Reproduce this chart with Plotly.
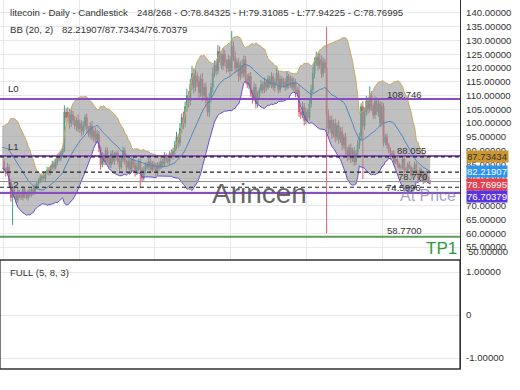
import plotly.graph_objects as go
import pandas as pd

# ---------------- data ----------------
warmup_close = [84, 87, 90, 88, 93, 96, 94, 97, 93, 98, 95, 91, 94, 90, 93, 88, 91, 87, 89, 86]

close = [
    83, 82, 84, 79, 73, 76, 74, 72, 75, 74,
    73, 76, 74, 73, 75, 74, 76, 75, 77, 78,
    79, 80, 81, 80, 82, 83, 82, 84, 85, 84,
    86, 88, 87, 89, 90, 104, 102, 104, 100, 103,
    101, 99, 101, 98, 100, 97, 99, 102, 98, 96,
    99, 95, 97, 94, 96, 91, 85, 88, 86, 90,
    87, 85, 89, 86, 88, 89, 86, 84, 87, 90,
    86, 84, 86, 83, 87, 85, 82, 84, 86, 83,
    80, 83, 85, 84, 86, 83, 85, 84, 82, 85,
    84, 86, 85, 88, 87, 86, 89, 88, 90, 92,
    95, 93, 98, 102, 100, 106, 110, 108, 114, 118,
    113, 117, 115, 111, 116, 110, 113, 108, 104, 109,
    113, 118, 121, 119, 126, 124, 121, 125, 122, 120,
    123, 119, 128, 124, 120, 122, 117, 121, 118, 123,
    116, 114, 117, 111, 109, 113, 107, 110, 112, 114,
    112, 115, 113, 116, 114, 117, 113, 115, 118, 112,
    116, 114, 115, 113, 117, 114, 116, 113, 115, 111,
    112, 104, 103, 106, 101, 104, 102, 107, 112, 118,
    122, 124, 121, 123, 118, 122, 120, 103, 98, 101,
    96, 100, 95, 99, 94, 97, 92, 95, 90, 88,
    91, 87, 90, 86, 89, 92, 95, 106, 99, 104,
    108, 105, 110, 106, 103, 108, 104, 107, 100, 106,
    93, 95, 92, 90, 88, 89, 86, 87, 85, 84,
    84, 87, 83, 83, 85, 84, 81, 83, 85, 82,
    80, 83, 81, 79, 82, 80, 78.84325, 78.76995,
]

wick_up = [
    1.2, 0.8, 1.5, 1.0, 0.6, 1.8, 1.2, 0.9, 1.4, 0.7,
    1.0, 1.3, 0.6, 1.1, 0.9, 1.2, 0.8, 1.5, 1.0, 0.7,
    0.9, 1.2, 0.8, 1.4, 0.6, 1.1, 1.0, 0.8, 1.3, 0.9,
    1.1, 0.7, 1.4, 0.9, 1.2, 2.5, 1.5, 1.8, 1.2, 2.0,
    1.4, 1.6, 1.1, 2.2, 1.3, 1.0, 1.7, 1.2, 1.5, 0.9,
    1.3, 1.8, 1.0, 1.4, 1.6, 1.2, 0.8, 1.5, 1.1, 1.3,
    1.0, 1.4, 0.9, 1.2, 1.6, 0.8, 1.1, 1.3, 1.0, 1.5,
    1.2, 0.9, 1.4, 1.0, 1.3, 0.7, 1.1, 1.5, 0.9, 1.2,
    1.0, 1.3, 0.8, 1.1, 1.4, 0.9, 1.2, 1.0, 1.5, 0.8,
    1.1, 1.3, 0.9, 1.4, 1.0, 1.2, 0.8, 1.5, 1.1, 1.6,
    1.8, 1.2, 2.0, 1.5, 2.2, 1.8, 2.5, 1.6, 2.1, 2.8,
    1.9, 2.4, 1.5, 2.0, 1.7, 2.2, 1.4, 1.8, 1.6, 2.0,
    1.5, 2.2, 1.8, 1.4, 2.3, 1.9, 1.5, 2.1, 1.6, 1.2,
    1.8, 1.4, 5.5, 1.7, 2.0, 1.3, 1.8, 1.5, 2.2, 1.6,
    1.4, 1.9, 1.2, 1.6, 1.1, 1.8, 1.3, 1.5, 1.0, 1.7,
    1.2, 1.5, 0.9, 1.4, 1.1, 1.6, 1.0, 1.3, 1.8, 1.1,
    1.4, 1.0, 1.5, 1.2, 1.7, 0.9, 1.3, 1.1, 1.6, 1.0,
    1.2, 2.0, 1.4, 1.8, 1.3, 1.6, 1.1, 2.2, 1.9, 2.5,
    1.8, 2.0, 1.5, 2.3, 1.7, 1.9, 1.4, 15.0, 2.0, 1.6,
    1.8, 1.3, 1.6, 1.2, 1.9, 1.4, 1.7, 1.1, 1.5, 1.3,
    1.2, 1.6, 1.0, 1.4, 1.1, 1.8, 1.5, 1.2, 2.0, 1.7,
    1.9, 1.4, 3.3, 1.6, 1.2, 1.8, 1.4, 1.5, 1.1, 1.7,
    1.3, 1.0, 1.2, 0.8, 1.1, 0.9, 1.2, 0.7, 1.0, 0.8,
    0.9, 1.1, 0.7, 1.0, 0.8, 1.2, 0.6, 0.9, 1.1, 0.7,
    0.8, 1.0, 0.6, 0.9, 0.7, 0.8, 0.5, 0.4676,
]

wick_dn = [
    1.0, 1.4, 0.8, 1.2, 1.5, 10.0, 1.3, 1.0, 0.8, 1.2,
    0.9, 1.1, 1.4, 0.7, 1.2, 1.0, 0.8, 1.3, 0.9, 1.1,
    1.0, 0.8, 1.2, 0.9, 1.3, 0.7, 1.1, 1.0, 0.8, 1.4,
    0.9, 1.2, 0.8, 1.0, 1.1, 0.6, 1.8, 1.2, 2.0, 1.4,
    1.6, 1.1, 1.9, 1.3, 1.5, 1.8, 1.2, 1.4, 1.7, 1.0,
    1.5, 1.2, 1.8, 1.1, 1.4, 1.6, 2.0, 1.0, 1.3, 1.2,
    1.4, 1.1, 1.3, 0.9, 1.2, 1.5, 1.0, 1.4, 0.8, 1.2,
    1.0, 1.3, 0.9, 1.5, 1.1, 1.2, 1.4, 0.8, 1.3, 6.6,
    1.2, 0.9, 1.4, 1.0, 1.1, 1.3, 0.8, 1.2, 1.5, 1.0,
    1.3, 0.8, 1.1, 1.0, 1.4, 0.9, 1.2, 1.0, 1.3, 1.5,
    1.6, 2.0, 1.4, 1.8, 2.2, 1.5, 1.9, 2.4, 1.6, 2.0,
    2.2, 1.6, 2.0, 1.8, 1.5, 2.1, 1.7, 2.3, 1.5, 1.8,
    1.6, 1.9, 1.4, 1.7, 1.2, 2.0, 1.5, 1.8, 1.3, 1.7,
    1.4, 2.0, 0.0, 1.5, 1.8, 1.2, 1.9, 1.4, 1.6, 1.3,
    1.5, 1.2, 1.7, 1.4, 1.9, 1.1, 1.7, 1.3, 1.6, 1.0,
    1.3, 1.1, 1.5, 0.9, 1.2, 1.4, 1.0, 1.6, 1.1, 1.3,
    1.0, 1.4, 1.1, 1.3, 0.9, 1.5, 1.2, 1.0, 1.4, 1.6,
    1.3, 1.8, 1.5, 1.2, 1.9, 1.4, 1.6, 1.1, 1.5, 1.3,
    1.7, 1.2, 1.9, 1.4, 1.6, 1.3, 1.8, 43.0, 2.0, 1.5,
    1.7, 1.3, 1.9, 1.4, 1.6, 1.2, 1.8, 1.3, 1.5, 1.9,
    1.4, 1.6, 1.1, 1.5, 1.3, 1.2, 1.4, 1.6, 19.3, 1.5,
    1.4, 1.8, 1.2, 1.6, 1.3, 1.5, 1.1, 1.7, 1.4, 1.2,
    1.5, 1.1, 1.3, 0.9, 1.2, 1.0, 1.4, 0.8, 1.1, 0.9,
    1.0, 0.8, 1.2, 0.9, 1.1, 0.7, 1.3, 0.8, 1.0, 0.9,
    1.1, 0.7, 0.9, 1.2, 0.8, 1.0, 0.6, 0.8277,
]

bb_period = 20
bb_mult = 2

level_names = ["L0", "L1", "L2", "TP1"]
level_values = [108.746, 88.055, 74.5996, 58.77]
level_texts = ["108.746", "88.055", "74.5996", "58.7700"]

bb_now = [82.21907, 87.73434, 76.70379]   # mid / upper / lower
last_close = 78.76995
price_line_text = "78.770"

price_ticks = [55, 60, 65, 70, 75, 80, 85, 90, 95, 100, 105, 110, 115, 120, 125, 130, 135, 140]
osc_ticks = [1, 0, -1]
osc_tick_text = ["1.00000", "0", "-1.00000"]
grid_x = [19.5, 63.5, 107.5, 151.5, 195.5, 239.5]

header1 = "litecoin - Daily - Candlestick"
header1b = "248/268 - O:78.84325 - H:79.31085 - L:77.94225 - C:78.76995"
header2 = "BB (20, 2)"
header2b = "82.21907/87.73434/76.70379"

# ---------------- derived ----------------
all_close = warmup_close + close
n_warm = len(warmup_close)
x_all = list(range(len(all_close)))
x_vis = x_all[n_warm:]
opens = all_close[n_warm - 1:-1]
highs = [max(o, c) + w for o, c, w in zip(opens, close, wick_up)]
lows = [min(o, c) - w for o, c, w in zip(opens, close, wick_dn)]

s = pd.Series(all_close, dtype=float)
mid = s.rolling(bb_period).mean()
sd = s.rolling(bb_period).std(ddof=0)
upper = mid + bb_mult * sd
lower = mid - bb_mult * sd
st = bb_period - 1

FONT = "Liberation Sans, Arial, sans-serif"
W_PLOT, H_PLOT = 460, 369
SPLIT = (H_PLOT - 260) / H_PLOT


def px(xp, yp):
    return xp / W_PLOT, (H_PLOT - yp) / H_PLOT


def ann(text, xp, yp, size=9.6, color="#333333", xanchor="left", **kw):
    x, y = px(xp, yp)
    d = dict(text=text, x=x, y=y, xref="paper", yref="paper", showarrow=False,
             xanchor=xanchor, yanchor="middle",
             font=dict(family=FONT, size=size, color=color))
    d.update(kw)
    return d


fig = go.Figure()

fig.add_trace(go.Scatter(x=x_all[st:], y=upper[st:], mode="lines",
                         line=dict(color="#c8aa60", width=1), hoverinfo="skip",
                         showlegend=False))
fig.add_trace(go.Scatter(x=x_all[st:], y=lower[st:], mode="lines",
                         line=dict(color="#6a4fd6", width=1), fill="tonexty",
                         fillcolor="rgba(150,150,150,0.6)", hoverinfo="skip",
                         showlegend=False))
fig.add_trace(go.Candlestick(x=x_vis, open=opens, high=highs, low=lows, close=close,
                             increasing=dict(line=dict(color="#3a9f86", width=1),
                                             fillcolor="#3a9f86"),
                             decreasing=dict(line=dict(color="#df5a72", width=1),
                                             fillcolor="#df5a72"),
                             whiskerwidth=0, showlegend=False))
fig.add_trace(go.Scatter(x=x_all[st:], y=mid[st:], mode="lines",
                         line=dict(color="#4f87c4", width=1), hoverinfo="skip",
                         showlegend=False))
# empty oscillator panel
fig.add_trace(go.Scatter(x=[None], y=[None], xaxis="x2", yaxis="y2", showlegend=False))

shapes = []
purple = "#8a4cc2"
for nm, v in zip(level_names, level_values):
    col = "#5e9c5e" if nm == "TP1" else purple
    shapes.append(dict(type="line", xref="paper", x0=0, x1=1, yref="y", y0=v, y1=v,
                       line=dict(color=col, width=2)))
shapes.append(dict(type="line", xref="paper", x0=0, x1=1, yref="y", y0=last_close,
                   y1=last_close, line=dict(color="#8c8c8c", width=1)))
for v in bb_now:
    shapes.append(dict(type="line", xref="paper", x0=0, x1=1, yref="y", y0=v, y1=v,
                       line=dict(color="#222222", width=1.2, dash="4px,3px")))
# oscillator panel frame
shapes.append(dict(type="rect", xref="paper", yref="paper", x0=0, x1=1, y0=0, y1=SPLIT,
                   line=dict(color="#333333", width=1.3)))

annotations = [
    ann(header1, 8, 12.5), ann(header1b, 135, 12.5),
    ann(header2, 8, 29.5), ann(header2b, 60, 29.5),
    ann("L0", 6, 89), ann("L1", 6, 147), ann("L2", 6, 184),
    ann(level_texts[0], 385, 94), ann(level_texts[1], 395, 150),
    ann(price_line_text, 396, 176), ann(level_texts[2], 384, 187),
    ann(level_texts[3], 385, 230),
    ann("TP1", 424, 248, size=17, color="#2f9a3c"),
    ann("Arincen", 259, 193, size=28, color="rgba(75,75,75,0.85)", xanchor="center"),
    ann("At Price", 398, 195, size=16, color="rgba(125,115,180,0.7)"),
    ann("FULL (5, 8, 3)", 8, 273),
    ann("50.00000", 466, 251),
]
box_vals = [bb_now[1], bb_now[0], last_close, bb_now[2]]
box_cols = ["#c9962f", "#2a93ee", "#e6404f", "#5a34e0"]
box_font = ["#333333", "white", "white", "white"]
box_y = [156.7, 171.5, 184, 196.3]
for v, c, fc, yp in zip(box_vals, box_cols, box_font, box_y):
    annotations.append(ann(f"{v:.5f}", 466, yp, color=fc, bgcolor=c, borderpad=0))

fig.update_layout(
    width=520, height=390,
    margin=dict(l=0, r=60, t=0, b=21),
    paper_bgcolor="white", plot_bgcolor="white",
    font=dict(family=FONT, size=9.6, color="#333333"),
    showlegend=False,
    xaxis=dict(range=[17.7, 284.3], domain=[0, 1], anchor="y", tickvals=grid_x,
               showticklabels=False, showgrid=True, gridcolor="#e8e8e8", zeroline=False,
               rangeslider=dict(visible=False), ticks=""),
    xaxis2=dict(range=[17.7, 284.3], domain=[0, 1], anchor="y2", showticklabels=False,
                showgrid=False, zeroline=False, ticks=""),
    yaxis=dict(domain=[SPLIT, 1], range=[50.28, 144.72], side="right",
               tickvals=price_ticks, ticktext=[f"{t:.5f}" for t in price_ticks],
               showgrid=True, gridcolor="#e8e8e8", zeroline=False,
               showline=True, linecolor="#333333", linewidth=1.3,
               ticks="outside", ticklen=3, tickcolor="rgba(0,0,0,0)"),
    yaxis2=dict(domain=[0, SPLIT], range=[-1.256, 1.28], side="right", anchor="x2",
                tickvals=osc_ticks, ticktext=osc_tick_text,
                showgrid=True, gridcolor="#e8e8e8", zeroline=False,
                showline=True, linecolor="#333333", linewidth=1.3,
                ticks="outside", ticklen=3, tickcolor="rgba(0,0,0,0)"),
    shapes=shapes,
    annotations=annotations,
)

fig.write_html("out.html", config={"displayModeBar": False},
               post_script="document.body.style.margin='0px';document.body.style.overflow='hidden';")
